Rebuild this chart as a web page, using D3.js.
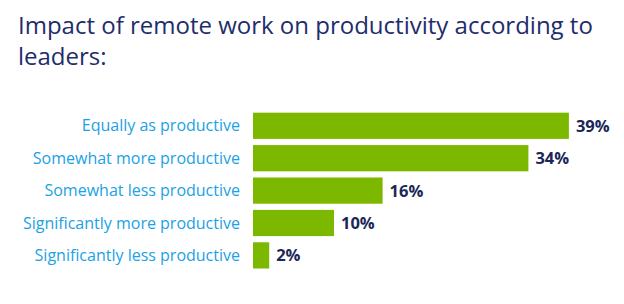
<!DOCTYPE html>
<html>
<head>
<meta charset="utf-8">
<script src="https://cdn.jsdelivr.net/npm/d3@7"></script>
<style>
  body { margin: 0; background: #fff; }
  svg { display: block; font-family: "Open Sans", "Noto Sans", sans-serif; }
  .title { fill: #1f2d6b; font-size: 24px; }
  .cat { fill: #1ba1e6; font-size: 16px; }
  .val { fill: #1b2758; font-size: 16.5px; font-weight: bold; }
</style>
</head>
<body>
<svg class="chart" width="624" height="304"></svg>
<script>
var categories = ["Equally as productive", "Somewhat more productive", "Somewhat less productive",
                  "Significantly more productive", "Significantly less productive"];
var values = [39, 34, 16, 10, 2];
var valueLabels = ["39%", "34%", "16%", "10%", "2%"];
var titleLines = ["Impact of remote work on productivity according to", "leaders:"];

var svg = d3.select("svg.chart");

var data = categories.map(function (c, i) {
  return {cat: c, value: values[i], label: valueLabels[i]};
});

var x = d3.scaleLinear()
    .domain([0, 40])
    .range([253, 577]);

var y = d3.scaleBand()
    .domain(categories)
    .range([109.6, 271.6])
    .paddingInner(0.19)
    .paddingOuter(0.095);

// title, two lines
svg.append("text")
    .attr("class", "title")
    .selectAll("tspan")
    .data(titleLines)
    .enter().append("tspan")
      .attr("x", 18)
      .attr("y", function (d, i) { return 34 + i * 31; })
      .text(function (d) { return d; });

var bar = svg.selectAll(".bar")
  .data(data)
  .enter().append("g")
    .attr("class", "bar");

bar.append("rect")
    .attr("x", x(0))
    .attr("y", function (d) { return y(d.cat); })
    .attr("width", function (d) { return x(d.value) - x(0); })
    .attr("height", y.bandwidth())
    .attr("fill", "#7cb800");

bar.append("text")
    .attr("class", "cat")
    .attr("text-anchor", "end")
    .attr("x", 240)
    .attr("y", function (d) { return y(d.cat) + y.bandwidth() / 2; })
    .attr("dy", "0.35em")
    .text(function (d) { return d.cat; });

bar.append("text")
    .attr("class", "val")
    .attr("x", function (d) { return x(d.value) + 7; })
    .attr("y", function (d) { return y(d.cat) + y.bandwidth() / 2; })
    .attr("dy", "0.36em")
    .text(function (d) { return d.label; });
</script>
</body>
</html>
